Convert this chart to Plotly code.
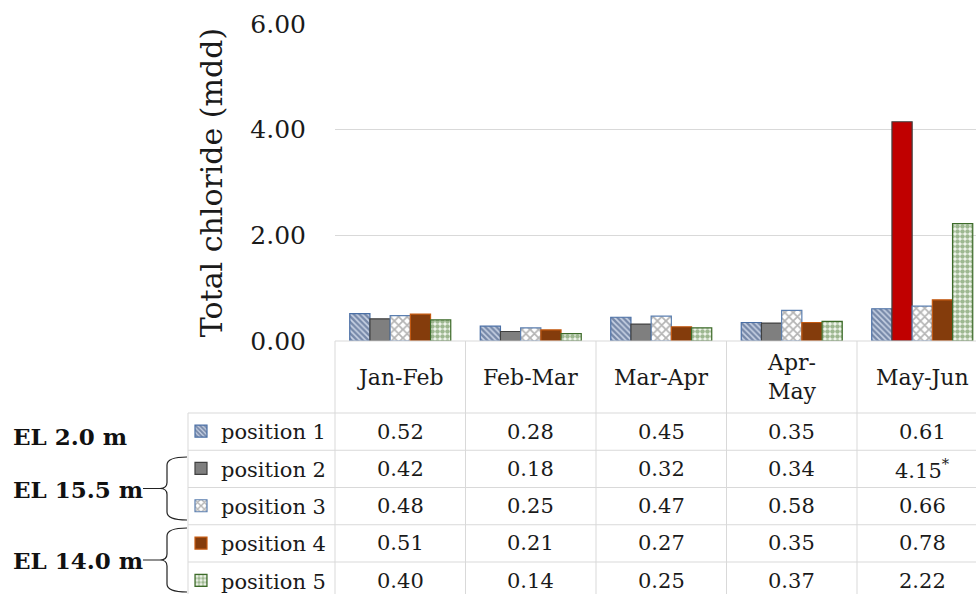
import plotly.graph_objects as go

categories = ["Jan-Feb", "Feb-Mar", "Mar-Apr", "Apr-May", "May-Jun"]
header_labels = ["Jan-Feb", "Feb-Mar", "Mar-Apr", "Apr-<br>May", "May-Jun"]
series_names = ["position 1", "position 2", "position 3", "position 4", "position 5"]
pos1 = [0.52, 0.28, 0.45, 0.35, 0.61]
pos2 = [0.42, 0.18, 0.32, 0.34, 4.15]
pos3 = [0.48, 0.25, 0.47, 0.58, 0.66]
pos4 = [0.51, 0.21, 0.27, 0.35, 0.78]
pos5 = [0.40, 0.14, 0.25, 0.37, 2.22]
pos2_notes = ["", "", "", "", "*"]
group_labels = ["EL 2.0 m", "EL 15.5 m", "EL 14.0 m"]
y_ticks = [0, 2, 4, 6]

FONT = "DejaVu Serif"
TXT = "#1a1a1a"
GRID = "#d9d9d9"

W, H = 976, 594
L, R, T, B = 335, 976, 24, 341
PW, PH = R - L, B - T
XMIN, XMAX = -0.5, -0.5 + PW / 130.5


def px(x):
    return (x - L) / PW


def py(y):
    return (B - y) / PH


def xcat(k):
    return (k - XMIN) / (XMAX - XMIN)


fig = go.Figure()
idx = list(range(len(categories)))

pos2_colors = ["#7f7f7f"] * 4 + ["#c00000"]

fig.add_bar(x=idx, y=pos1, name=series_names[0], legendgroup="g1",
            marker=dict(color="#ffffff", line=dict(color="#4a6fa5", width=1.2),
                        pattern=dict(shape="\\", fgcolor="#253f6e", bgcolor="#c8d2e4",
                                     size=4, solidity=0.6)))
fig.add_bar(x=idx, y=pos2, name=series_names[1], legendgroup="g2",
            marker=dict(color=pos2_colors, line=dict(color="#404040", width=1.2)))
fig.add_bar(x=idx, y=pos3, name=series_names[2], legendgroup="g3",
            marker=dict(color="#ffffff", line=dict(color="#5b7fb0", width=1.2),
                        pattern=dict(shape="x", fgcolor="#6a6a6a", bgcolor="#ffffff",
                                     size=6, solidity=0.5)))
fig.add_bar(x=idx, y=pos4, name=series_names[3], legendgroup="g4",
            marker=dict(color="#843c0c", line=dict(color="#c55a11", width=1.2)))
fig.add_bar(x=idx, y=pos5, name=series_names[4], legendgroup="g5",
            marker=dict(color="#ffffff", line=dict(color="#3d6b2a", width=1.2),
                        pattern=dict(shape=".", fgcolor="#457530", bgcolor="#f4f8f1",
                                     size=5, solidity=0.65)))

shapes = []
line = dict(color=GRID, width=1)
row_edges = [413 + 37.25 * i for i in range(6)]
shapes.append(dict(type="line", xref="paper", yref="paper", x0=0, x1=1,
                   y0=py(B), y1=py(B), line=line))
for ye in row_edges[:5]:
    shapes.append(dict(type="line", xref="paper", yref="paper", x0=px(188), x1=1,
                       y0=py(ye), y1=py(ye), line=line))
shapes.append(dict(type="line", xref="paper", yref="paper", x0=px(188), x1=px(188),
                   y0=py(row_edges[0]), y1=py(H), line=line))
for k in range(len(categories)):
    xv = xcat(k - 0.5)
    shapes.append(dict(type="line", xref="paper", yref="paper", x0=xv, x1=xv,
                       y0=py(B), y1=py(H), line=line))


def brace(y0, y1, xr=187, xm=167, xt=160, xs=143):
    yc = (y0 + y1) / 2
    p = (f"M{px(xr)},{py(y0)} Q{px(xm)},{py(y0)} {px(xm)},{py(y0 + 8)} "
         f"L{px(xm)},{py(yc - 6)} Q{px(xm)},{py(yc)} {px(xt)},{py(yc)} "
         f"Q{px(xm)},{py(yc)} {px(xm)},{py(yc + 6)} "
         f"L{px(xm)},{py(y1 - 8)} Q{px(xm)},{py(y1)} {px(xr)},{py(y1)} "
         f"M{px(xt)},{py(yc)} L{px(xs)},{py(yc)}")
    return dict(type="path", xref="paper", yref="paper", path=p,
                line=dict(color="#222222", width=1.2))


shapes.append(brace(457, 520))
shapes.append(brace(528, 592))

annotations = []
for k, lab in enumerate(header_labels):
    annotations.append(dict(x=k, xref="x", y=py(377), yref="paper", text=lab,
                            showarrow=False, font=dict(family=FONT, size=22, color=TXT),
                            xanchor="center", yanchor="middle"))
series = [pos1, pos2, pos3, pos4, pos5]
for r, vals in enumerate(series):
    yc = (row_edges[r] + row_edges[r + 1]) / 2
    for k, v in enumerate(vals):
        t = f"{v:.2f}"
        if r == 1 and pos2_notes[k]:
            t += f"<sup>{pos2_notes[k]}</sup>"
        annotations.append(dict(x=k, xref="x", y=py(yc), yref="paper", text=t,
                                showarrow=False, font=dict(family=FONT, size=21, color=TXT),
                                xanchor="center", yanchor="middle"))
for lab, yc in zip(group_labels, [437, 489, 560]):
    annotations.append(dict(x=px(11), xref="paper", y=py(yc), yref="paper",
                            text=f"<b>{lab}</b>", showarrow=False,
                            font=dict(family=FONT, size=23, color="#111111"),
                            xanchor="left", yanchor="middle"))

fig.update_layout(
    width=W, height=H,
    margin=dict(l=L, r=W - R, t=T, b=H - B, autoexpand=False),
    paper_bgcolor="white", plot_bgcolor="white",
    barmode="group", bargap=0.226, bargroupgap=0,
    font=dict(family=FONT, color=TXT),
    showlegend=True,
    legend=dict(x=px(181), y=py(411), xanchor="left", yanchor="top",
                font=dict(family=FONT, size=21, color=TXT),
                tracegroupgap=7, traceorder="grouped",
                bgcolor="rgba(0,0,0,0)", itemclick=False, itemdoubleclick=False),
    xaxis=dict(range=[XMIN, XMAX], showticklabels=False, showgrid=False,
               zeroline=False, showline=False, ticks=""),
    yaxis=dict(range=[0, 6], tickvals=y_ticks, tickformat=".2f",
               showgrid=True, gridcolor=GRID, gridwidth=1, zeroline=False,
               showline=False, ticks="", ticklabelstandoff=28,
               tickfont=dict(family=FONT, size=25, color=TXT),
               title=dict(text="Total chloride (mdd)", standoff=18,
                          font=dict(family=FONT, size=30, color=TXT))),
    shapes=shapes, annotations=annotations,
)

fig.write_html("out.html", config={"displayModeBar": False},
               post_script="document.body.style.margin='0';")
